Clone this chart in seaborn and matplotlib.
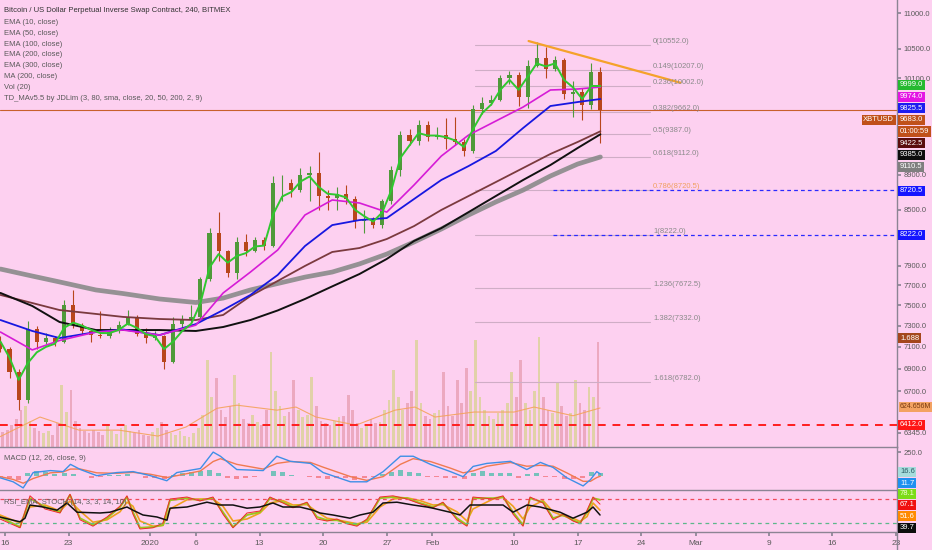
import numpy as np
import pandas as pd
import seaborn as sns
import matplotlib
matplotlib.use("Agg")
from matplotlib import pyplot as plt
from matplotlib.lines import Line2D
from matplotlib.ticker import NullLocator

# ---------- dados ----------
t0 = pd.Timestamp("2019-12-16")
candle_dates = pd.date_range("2019-12-15 12:00", "2020-02-19 12:00", freq="D")

opens = [7150, 7080, 6870, 6620, 7270, 7150, 7180, 7150, 7500, 7310, 7250, 7210, 7200, 7250, 7310, 7380, 7220,
         7180, 7200, 6960, 7320, 7360, 7380, 7760, 8250, 8050, 7820, 8150, 8050, 8170, 8110, 8800, 8800, 8720,
         8900, 8920, 8660, 8630, 8680, 8620, 8380, 8400, 8330, 8600, 8950, 9380, 9300, 9500,
         9350, 9380, 9330, 9290, 9180, 9700, 9780, 9820, 10100, 10150, 9850, 10270, 10370, 10230, 10340, 9900,
         9920, 9750, 10180]
closes = [7080, 6870, 6620, 7270, 7150, 7180, 7150, 7500, 7310, 7250, 7210, 7200, 7250, 7310, 7380, 7220, 7180,
          7200, 6960, 7320, 7360, 7380, 7760, 8250, 8050, 7820, 8150, 8050, 8170, 8110, 8800, 8800, 8720, 8900,
          8920, 8660, 8630, 8680, 8620, 8380, 8400, 8330, 8600, 8950, 9380, 9300, 9500, 9350,
          9380, 9330, 9290, 9180, 9700, 9780, 9820, 10100, 10150, 9850, 10270, 10370, 10230, 10340, 9900, 9920,
          9750, 10180, 9683]
highs = [7200, 7100, 6900, 7350, 7300, 7230, 7200, 7550, 7650, 7330, 7270, 7440, 7290, 7350, 7450, 7400, 7280,
         7250, 7210, 7380, 7400, 7500, 7780, 8300, 8470, 8060, 8200, 8230, 8200, 8200, 8880, 8900, 8850, 8980,
         9000, 9170, 8720, 8760, 8780, 8650, 8500, 8420, 8620, 9000, 9420, 9450, 9560, 9550,
         9470, 9590, 9600, 9330, 9750, 9850, 9880, 10150, 10200, 10180, 10350, 10600, 10520, 10400, 10380, 10060,
         9970, 10300, 10250]
lows = [7050, 6820, 6540, 6600, 7080, 7130, 7110, 7140, 7280, 7220, 7150, 7180, 7180, 7230, 7310, 7200, 7140,
        7160, 6900, 6950, 7280, 7330, 7360, 7740, 7950, 7780, 7760, 8000, 8040, 8060, 8100, 8600, 8640, 8700,
        8600, 8500, 8500, 8500, 8570, 8300, 8250, 8300, 8300, 8560, 8890, 9250, 9250, 9300,
        9330, 9200, 9250, 9120, 9160, 9640, 9750, 9800, 10020, 9740, 9720, 10250, 10100, 10200, 9830, 9600,
        9560, 9700, 9280]
ema10 = [7150, 7000, 6800, 6950, 7050, 7100, 7130, 7280, 7330, 7300, 7260, 7230, 7230, 7260, 7320, 7280, 7220,
         7200, 7080, 7150, 7250, 7320, 7520, 7880, 8020, 7930, 8000, 8030, 8100, 8110, 8450, 8650, 8700, 8820,
         8880, 8760, 8680, 8670, 8640, 8500, 8430, 8370, 8470, 8720, 9100, 9250, 9400, 9370,
         9370, 9350, 9310, 9230, 9450, 9650, 9760, 9950, 10080, 9950, 10120, 10300, 10260, 10300, 10080, 9980,
         9830, 10000, 9999]

# médias longas (dias desde 16/12)
ma_days = [-0.5, 3, 6, 10, 13, 17, 21, 24, 27, 30, 33, 36, 39, 42, 45, 48, 51, 54, 57, 60, 63, 65.5]
ma_grey = [7864, 7792, 7732, 7651, 7615, 7561, 7526, 7570, 7651, 7716, 7781, 7833, 7917, 8020, 8148, 8288,
           8442, 8588, 8723, 8885, 9026, 9110]
ma_black = [7621, 7492, 7336, 7259, 7259, 7259, 7250, 7288, 7355, 7448, 7561, 7687, 7813, 7969, 8159, 8298,
            8474, 8655, 8839, 9014, 9218, 9385]
ma_maroon = [7601, 7521, 7452, 7414, 7385, 7365, 7355, 7404, 7590, 7742, 7896, 8042, 8084, 8180, 8320, 8498,
             8655, 8815, 8979, 9146, 9291, 9422]
ma_blue = [7355, 7250, 7183, 7240, 7264, 7211, 7316, 7452, 7601, 7803, 8105, 8331, 8386, 8408, 8621, 8839,
           9002, 9182, 9463, 9740, 9791, 9830]
ma_magenta = [7240, 7072, 7160, 7240, 7259, 7211, 7306, 7621, 7833, 8063, 8442, 8610, 8576, 8474, 8781, 9121,
              9376, 9550, 9727, 9947, 9960, 9986]

# volume (milhões, 12h)
volumes = [200, 240, 280, 350, 450, 600, 650, 420, 300, 260,
           220, 250, 200, 380, 990, 560, 910, 420, 300, 260,
           220, 280, 240, 200, 330, 260, 210, 300, 350, 250,
           220, 280, 200, 180, 240, 300, 400, 280, 220, 200,
           250, 180, 160, 220, 300, 520, 1390, 800, 1100, 600,
           480, 650, 1150, 700, 450, 380, 520, 400, 350, 600,
           1520, 900, 650, 500, 560, 1070, 600, 480, 520, 1120,
           650, 420, 380, 350, 420, 480, 500, 830, 600, 380,
           300, 350, 450, 380, 400, 600, 750, 1230, 800, 600,
           700, 900, 1710, 700, 500, 450, 550, 600, 1200, 650,
           500, 1070, 700, 1270, 900, 1710, 800, 600, 500, 450,
           550, 600, 700, 1200, 800, 1390, 700, 600, 900, 1760,
           800, 600, 550, 1040, 650, 500, 550, 1070, 700, 600,
           960, 800, 1688]
vol_ma_days = [-0.55, 3.85, 8.14, 12.54, 16.83, 19.91, 23.32, 25.52, 29.92, 32.01, 34.21, 38.61, 42.9,
               45.1, 47.3, 51.6, 56.0, 58.2, 62.49, 65.46]
vol_ma = [165, 480, 270, 270, 175, 320, 620, 670, 590, 640, 480, 350, 590, 640, 480, 560, 560, 640, 500, 625]

# fibonacci
fib_levels = [10552.0, 10207.0, 10002.0, 9662.0, 9387.0, 9112.0, 8720.5, 8222.0, 7672.5, 7332.0, 6782.0]
fib_names = ["0", "0.149", "0.236", "0.382", "0.5", "0.618", "0.786", "1", "1.236", "1.382", "1.618"]
trend_days = [57.6, 74.3]
trend_prices = [10607, 10042]
last_price = 9683.0
red_level = 6412.0

# MACD
macd_days = [-0.55, 0.9, 2, 3.1, 5, 6.4, 7.2, 8.3, 10.1, 12.3, 14.1, 16, 17.8, 18.9, 21.5, 22.9, 23.7, 25.5,
             28.4, 29.9, 31.4, 33.6, 35, 38, 39.8, 41.6, 43.5, 44.9, 46.8, 49, 50.4, 51.5, 53, 55.6, 57.4,
             58.9, 60.3, 61.8, 63.6, 64.4, 65.1, 65.5]
macd_line = [-22, -65, -130, 33, 54, 43, 120, 65, 0, 33, 43, 0, -54, 33, 76, 250, 206, 65, 54, 206, 152, 130,
             33, -65, -65, 43, 206, 206, 120, 43, -11, 98, 130, 152, 65, 141, 87, -22, -109, -43, 43, 17]
macd_signal = [-10, -40, -80, -30, 30, 40, 70, 70, 30, 25, 35, 15, -20, 0, 50, 150, 180, 120, 70, 130, 150,
               140, 90, -10, -50, -10, 120, 180, 150, 80, 30, 50, 100, 140, 100, 110, 100, 30, -60, -60, -20, -5]
macd_hist = [-10, -25, -45, 30, 45, 35, 20, 30, 15, -5, -20, -15, 10, 12, 15, -5, -20,
             -25, -35, 10, 30, 35, 50, 60, 30, -25, -40, -30, -15, -5, 45, 35, 10, -5,
             -10, -30, -35, -25, -30, -45, -25, -10, 15, 40, 60, 40, 25, -10,
             -15, -20, -30, -35, 30, 45, 30, 30, 25, -25, 15, 30, -15, -10, -40, -35,
             -20, 40, 25]

# RSI / estocástico
stoch_days = [-0.55, 1.65, 2.75, 4.4, 6.05, 7.15, 8.25, 9.68, 11.22, 12.65, 13.42, 14.08, 14.85, 16.28,
              17.38, 18.15, 20.02, 21.45, 22.88, 23.98, 25.08, 26.62, 28.05, 29.15, 30.58, 31.68, 33.22,
              34.32, 35.42, 36.52, 37.62, 38.72, 39.82, 41.25, 42.68, 44.22, 45.65, 47.08, 48.18, 49.72,
              50.82, 51.48, 53.68, 54.79, 55.89, 56.99, 57.76, 59.19, 60.29, 61.39, 62.49, 63.26, 64.03,
              64.69, 65.46]
stoch_green = [35, 10, 82, 60, 47, 90, 32, 15, 32, 60, 85, 47, 8, 10, 15, 77, 82, 77, 82, 47, 10, 40, 47, 82,
               72, 60, 70, 35, 27, 27, 20, 15, 27, 82, 85, 82, 70, 60, 70, 32, 15, 82, 82, 85, 47, 15, 82,
               72, 32, 40, 27, 20, 47, 82, 78]
stoch_red = [30, 8, 88, 55, 45, 92, 28, 12, 35, 62, 88, 42, 5, 8, 20, 80, 85, 75, 85, 42, 8, 45, 50, 85, 70,
             58, 72, 30, 25, 30, 18, 12, 30, 85, 88, 80, 68, 58, 72, 28, 12, 85, 80, 88, 42, 12, 85, 70, 28,
             42, 25, 18, 52, 85, 67]
stoch_orange = [40, 20, 60, 65, 50, 75, 50, 22, 28, 48, 72, 62, 25, 12, 14, 55, 78, 80, 80, 62, 25, 30, 45,
                70, 76, 65, 66, 48, 32, 28, 23, 18, 22, 60, 80, 83, 76, 65, 66, 48, 25, 55, 80, 84, 62, 30,
                60, 76, 48, 38, 32, 24, 36, 70, 52]
rsi_days = [-0.55, 0.88, 1.65, 2.2, 2.75, 4.18, 5.72, 6.82, 7.92, 10.45, 11.55, 13.42, 14.08, 15.18, 16.72,
            17.82, 18.15, 20.02, 22.22, 23.65, 25.08, 26.62, 28.05, 29.48, 30.58, 32.45, 33.88, 34.65, 36.08,
            37.95, 39.05, 40.48, 41.58, 43.12, 44.88, 46.42, 47.08, 48.95, 50.05, 51.16, 53.03, 54.79, 55.89,
            57.43, 58.86, 61.06, 62.49, 64.03, 64.69, 65.46]
rsi_black = [35, 27, 23, 32, 65, 60, 52, 70, 47, 45, 47, 60, 52, 40, 35, 27, 57, 60, 72, 65, 65, 57, 60, 70,
             60, 60, 52, 45, 40, 32, 40, 47, 70, 72, 65, 60, 57, 47, 40, 65, 65, 65, 47, 65, 60, 47, 32, 47,
             60, 40]

xtick_dates = ["2019-12-16", "2019-12-23", "2020-01-01", "2020-01-06", "2020-01-13", "2020-01-20",
               "2020-01-27", "2020-02-01", "2020-02-10", "2020-02-17", "2020-02-24", "2020-03-01",
               "2020-03-09", "2020-03-16", "2020-03-23"]
xtick_labels = ["16", "23", "2020", "6", "13", "20", "27", "Feb", "10", "17", "24", "Mar", "9", "16", "23"]
price_ticks = [11000, 10500, 10100, 8900, 8500, 7900, 7700, 7500, 7300, 7100, 6900, 6700, 6345]

legend_lines = ["EMA (10, close)", "EMA (50, close)", "EMA (100, close)", "EMA (200, close)",
                "EMA (300, close)", "MA (200, close)", "Vol (20)",
                "TD_MAv5.5 by JDLim (3, 80, sma, close, 20, 50, 200, 2, 9)"]


def to_time(days):
    return t0 + pd.to_timedelta(np.asarray(days, dtype=float), unit="D")


# ---------- estilo ----------
BG = "#fdd0f0"
SEP = "#8c8494"
TXT = "#5a5a5a"
FS = 5.5
sns.set_theme(style="white", rc={"figure.facecolor": BG, "axes.facecolor": BG})
plt.rcParams["font.family"] = ["Liberation Sans", "DejaVu Sans"]

W, H = 932, 550
fig = plt.figure(figsize=(W / 100, H / 100), dpi=100)


def box(px_left, px_top, px_right, px_bottom):
    return [px_left / W, 1 - px_bottom / H, (px_right - px_left) / W, (px_bottom - px_top) / H]


ax = fig.add_axes(box(0, 0, 897, 447))
ax_v = ax.twinx()
ax_m = fig.add_axes(box(0, 447, 897, 490), sharex=ax)
ax_r = fig.add_axes(box(0, 490, 897, 532), sharex=ax)

ax.set_zorder(2)
ax_v.set_zorder(1)
for a in (ax, ax_v, ax_m, ax_r):
    a.patch.set_visible(False)
    for s in ("top", "left"):
        a.spines[s].set_visible(False)
    a.spines["right"].set_color(SEP)
    a.spines["bottom"].set_color(SEP)
    a.spines["right"].set_linewidth(1)
    a.spines["bottom"].set_linewidth(1)
ax_v.spines["right"].set_visible(False)
ax_v.spines["bottom"].set_visible(False)

# ---------- volume ----------
vol_dates = pd.date_range("2019-12-15 06:00", periods=len(volumes), freq="12h")
up_day = np.array(closes) >= np.array(opens)
vol_cols = ["#dcd29c" if up_day[i // 2] else "#eaa3b8" for i in range(len(volumes))]
ax_v.bar(vol_dates, volumes, width=0.3, color=vol_cols, alpha=0.85, linewidth=0)
sns.lineplot(x=to_time(vol_ma_days), y=vol_ma, ax=ax_v, color="#f4a35c", linewidth=0.8, alpha=0.9)
ax_v.set_ylim(0, 7160)
ax_v.set_yticks([])
ax_v.set_ylabel("")

# ---------- preço ----------
ax.set_yscale("log")
o, c = np.array(opens), np.array(closes)
cols = np.where(c >= o, "#4f9a3a", "#b8461c")
ax.vlines(candle_dates, lows, highs, colors=cols, linewidth=0.8, zorder=2)
ax.bar(candle_dates, np.maximum(np.abs(c - o), 8), bottom=np.minimum(o, c), width=0.45, color=cols,
       linewidth=0, zorder=2.5)

ma_t = to_time(ma_days)
sns.lineplot(x=ma_t, y=ma_grey, ax=ax, color="#8a8a8a", linewidth=3.4, alpha=0.9, zorder=3)
sns.lineplot(x=ma_t, y=ma_maroon, ax=ax, color="#7b3a3e", linewidth=1.3, zorder=3)
sns.lineplot(x=ma_t, y=ma_black, ax=ax, color="#111111", linewidth=1.4, zorder=3)
sns.lineplot(x=ma_t, y=ma_blue, ax=ax, color="#1717e0", linewidth=1.3, zorder=3)
sns.lineplot(x=ma_t, y=ma_magenta, ax=ax, color="#d61cd6", linewidth=1.2, zorder=3)
sns.lineplot(x=candle_dates, y=ema10, ax=ax, color="#30c830", linewidth=1.4, zorder=4)

# fibonacci
fib_t = to_time([51.7, 71.0])
for lvl, name in zip(fib_levels, fib_names):
    ax.plot(fib_t, [lvl, lvl], color="#cfadc6", linewidth=0.8, zorder=1.5)
    ax.text(to_time(71.3), lvl, f"{name}({lvl:.1f})", fontsize=FS, va="bottom", ha="left",
            color="#f0a060" if name == "0.786" else "#8a8a8a", zorder=5)
for lvl in (8720.5, 8222.0):
    ax.plot(to_time([60.3, 98.2]), [lvl, lvl], color="#2a2aff", linewidth=0.9, linestyle=(0, (3, 2.5)),
            zorder=3)

sns.lineplot(x=to_time(trend_days), y=trend_prices, ax=ax, color="#f5a22a", linewidth=1.6, zorder=4)
ax.axhline(last_price, color="#c8602c", linewidth=0.8, zorder=1.8)
ax.axhline(red_level, color="#ff1e1e", linewidth=1.4, linestyle=(0, (4, 3.5)), zorder=3)

ax.set_ylim(6226, 11194)
ax.set_xlim(to_time(-0.55), to_time(98.13))
ax.set_yticks(price_ticks)
ax.set_yticklabels([f"{p:.1f}" for p in price_ticks])
ax.yaxis.set_minor_locator(NullLocator())
ax.tick_params(axis="y", which="both", left=False, right=True, labelleft=False, labelright=True, length=3,
               color=SEP, labelsize=FS, labelcolor=TXT, pad=2)
ax.tick_params(axis="x", bottom=False, labelbottom=False)
ax.set_xlabel("")
ax.set_ylabel("")

# ---------- MACD ----------
m_t = to_time(macd_days)
hist_cols = ["#5fbfb2" if v >= 0 else "#f47c86" for v in macd_hist]
ax_m.bar(candle_dates, macd_hist, width=0.55, color=hist_cols, alpha=0.85, linewidth=0)
sns.lineplot(x=m_t, y=macd_signal, ax=ax_m, color="#f07a50", linewidth=1.0)
sns.lineplot(x=m_t, y=macd_line, ax=ax_m, color="#3f8fe6", linewidth=1.0)
ax_m.set_ylim(-152, 304)
ax_m.set_yticks([250])
ax_m.set_yticklabels(["250.0"])
ax_m.tick_params(axis="y", left=False, right=True, labelleft=False, labelright=True, length=3, color=SEP,
                 labelsize=FS, labelcolor=TXT, pad=2)
ax_m.tick_params(axis="x", bottom=False, labelbottom=False)
ax_m.set_xlabel("")
ax_m.set_ylabel("")

# ---------- RSI ----------
s_t = to_time(stoch_days)
sns.lineplot(x=s_t, y=stoch_orange, ax=ax_r, color="#f0a020", linewidth=1.2)
sns.lineplot(x=s_t, y=stoch_green, ax=ax_r, color="#9ac81e", linewidth=1.4)
sns.lineplot(x=s_t, y=stoch_red, ax=ax_r, color="#f02a2a", linewidth=0.7)
sns.lineplot(x=to_time(rsi_days), y=rsi_black, ax=ax_r, color="#111111", linewidth=1.1)
ax_r.axhline(80, color="#f04a5a", linewidth=0.9, linestyle=(0, (3, 3)))
ax_r.axhline(20, color="#5cb88a", linewidth=0.9, linestyle=(0, (3, 3)))
ax_r.set_ylim(-2.5, 102.5)
ax_r.set_yticks([])
ax_r.set_xticks(pd.to_datetime(xtick_dates))
ax_r.set_xticklabels(xtick_labels)
ax_r.tick_params(axis="x", bottom=True, length=3, color=SEP, labelsize=6, labelcolor=TXT, pad=3)
ax_r.tick_params(axis="y", left=False, right=False)
ax_r.set_xlabel("")
ax_r.set_ylabel("")
ax_r.set_xlim(to_time(-0.55), to_time(98.13))

# eixo direito continua até embaixo
fig.add_artist(Line2D([897 / W, 897 / W], [0, 18 / H], color=SEP, linewidth=1))

# ---------- textos ----------
fig.text(4 / W, 1 - 10.7 / H, "Bitcoin / US Dollar Perpetual Inverse Swap Contract, 240, BITMEX",
         fontsize=FS, color="#333333", va="center", ha="left")
for k, line in enumerate(legend_lines):
    fig.text(4 / W, 1 - (22.5 + 10.8 * k) / H, line, fontsize=FS, color=TXT, va="center", ha="left")
fig.text(4 / W, 1 - 459 / H, "MACD (12, 26, close, 9)", fontsize=FS, color=TXT, va="center", ha="left")
fig.text(4 / W, 1 - 502 / H, "RSI_EMA_STOCH (14, 3, 3, 14, 10)", fontsize=FS, color=TXT, va="center",
         ha="left")

tags = [
    (85, "9999.0", "#25b92f", "white", FS),
    (96.7, "9974.0", "#e414e4", "white", FS),
    (108.3, "9825.5", "#1c1cf0", "white", FS),
    (119.8, "9683.0", "#c0501a", "white", FS),
    (131.5, "01:00:59", "#c0501a", "white", FS),
    (143.2, "9422.5", "#5a0c0c", "white", FS),
    (154.9, "9385.0", "#0d0d0d", "white", FS),
    (166.6, "9110.5", "#7f7f7f", "white", FS),
    (190.7, "8720.5", "#1515ff", "white", FS),
    (235, "8222.0", "#1515ff", "white", FS),
    (338.3, "1.688", "#a4471c", "white", FS),
    (406.7, "624.656M", "#f3a262", "#7a3a10", 5.0),
    (425, "6412.0", "#ff1616", "white", FS),
    (471.7, "16.6", "#a5dcdc", "#2d5d66", FS),
    (483.3, "11.7", "#1e90f0", "white", FS),
    (493.8, "78.1", "#7cdc18", "#f4ffd8", FS),
    (505, "67.1", "#f01010", "white", FS),
    (516.4, "51.6", "#ff8a00", "white", FS),
    (527.6, "39.7", "#0d0d0d", "white", FS),
]
for py, txt, fc, tc, fs in tags:
    fig.text(900 / W, 1 - py / H, txt, fontsize=fs, color=tc, va="center", ha="left", zorder=10,
             bbox=dict(boxstyle="square,pad=0.2", fc=fc, ec="none"))
fig.text(894 / W, 1 - 119.8 / H, "XBTUSD", fontsize=FS, color="white", va="center", ha="right", zorder=10,
         bbox=dict(boxstyle="square,pad=0.2", fc="#c0501a", ec="none"))

plt.savefig("out.png", dpi=100, facecolor=BG)
